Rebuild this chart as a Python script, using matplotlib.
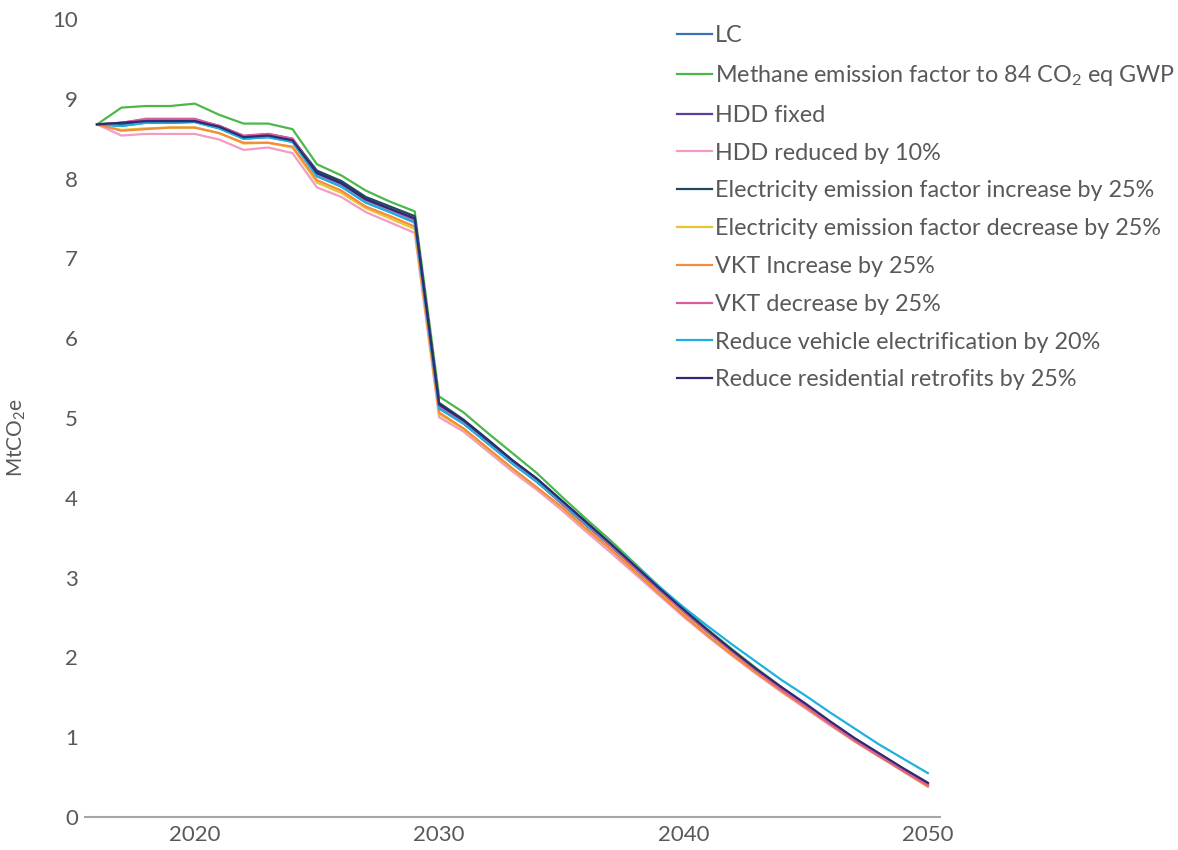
import matplotlib
matplotlib.use("Agg")
import matplotlib.pyplot as plt

plt.rcParams["font.family"] = ["Lato", "DejaVu Sans"]
plt.rcParams["mathtext.default"] = "regular"

years = list(range(2016, 2051))

lc = [8.68, 8.66, 8.70, 8.70, 8.71, 8.63, 8.50, 8.52, 8.46, 8.03, 7.90, 7.70, 7.58, 7.45,
      5.12, 4.93, 4.68, 4.43, 4.20,
      3.93, 3.66, 3.40, 3.12, 2.84, 2.57, 2.31, 2.07, 1.83, 1.61, 1.40, 1.18, 0.97, 0.78, 0.59, 0.41]
methane_84 = [8.68, 8.89, 8.91, 8.91, 8.94, 8.80, 8.69, 8.69, 8.62, 8.18, 8.04, 7.85, 7.71, 7.59,
              5.27, 5.07, 4.81, 4.56, 4.31,
              4.02, 3.74, 3.47, 3.18, 2.89, 2.61, 2.35, 2.10, 1.86, 1.63, 1.41, 1.19, 0.98, 0.79, 0.60, 0.42]
hdd_fixed = [8.68, 8.70, 8.74, 8.74, 8.74, 8.66, 8.53, 8.56, 8.50, 8.08, 7.95, 7.75, 7.62, 7.50,
             5.15, 4.96, 4.71, 4.46, 4.23,
             3.96, 3.69, 3.42, 3.14, 2.86, 2.59, 2.33, 2.08, 1.84, 1.62, 1.41, 1.19, 0.98, 0.79, 0.60, 0.42]
hdd_minus10 = [8.68, 8.54, 8.56, 8.56, 8.56, 8.49, 8.36, 8.39, 8.32, 7.89, 7.77, 7.58, 7.45, 7.32,
               5.01, 4.83, 4.58, 4.33, 4.10,
               3.85, 3.58, 3.32, 3.05, 2.78, 2.51, 2.26, 2.02, 1.79, 1.57, 1.36, 1.15, 0.95, 0.76, 0.58, 0.39]
elec_up = [8.68, 8.68, 8.71, 8.72, 8.73, 8.66, 8.53, 8.54, 8.49, 8.10, 7.97, 7.77, 7.65, 7.53,
           5.19, 4.98, 4.73, 4.47, 4.24,
           3.97, 3.70, 3.43, 3.15, 2.87, 2.60, 2.33, 2.08, 1.84, 1.62, 1.40, 1.19, 0.98, 0.78, 0.59, 0.40]
elec_down = [8.68, 8.61, 8.63, 8.64, 8.64, 8.57, 8.44, 8.45, 8.39, 7.95, 7.82, 7.63, 7.50, 7.37,
             5.05, 4.86, 4.61, 4.36, 4.13,
             3.88, 3.61, 3.36, 3.08, 2.81, 2.54, 2.28, 2.04, 1.81, 1.59, 1.38, 1.17, 0.96, 0.77, 0.58, 0.39]
vkt_up = [8.68, 8.60, 8.62, 8.64, 8.64, 8.57, 8.45, 8.45, 8.40, 7.98, 7.85, 7.65, 7.53, 7.40,
          5.07, 4.87, 4.62, 4.37, 4.13,
          3.89, 3.62, 3.36, 3.08, 2.80, 2.53, 2.27, 2.03, 1.80, 1.58, 1.37, 1.16, 0.95, 0.76, 0.57, 0.38]
vkt_down = [8.68, 8.70, 8.75, 8.75, 8.75, 8.66, 8.54, 8.56, 8.50, 8.06, 7.93, 7.73, 7.61, 7.48,
            5.14, 4.94, 4.69, 4.44, 4.21,
            3.94, 3.67, 3.41, 3.13, 2.85, 2.58, 2.32, 2.07, 1.83, 1.60, 1.39, 1.17, 0.96, 0.77, 0.58, 0.40]
ev_minus20 = [8.68, 8.66, 8.70, 8.70, 8.71, 8.63, 8.50, 8.52, 8.46, 8.03, 7.90, 7.70, 7.58, 7.45,
              5.12, 4.93, 4.68, 4.43, 4.20,
              3.95, 3.68, 3.43, 3.16, 2.89, 2.63, 2.39, 2.16, 1.94, 1.72, 1.52, 1.31, 1.11, 0.91, 0.73, 0.55]
retrofit_minus25 = [8.68, 8.70, 8.72, 8.72, 8.72, 8.65, 8.52, 8.54, 8.48, 8.07, 7.94, 7.74, 7.62, 7.50,
                    5.17, 4.97, 4.72, 4.47, 4.24,
                    3.97, 3.70, 3.43, 3.15, 2.87, 2.60, 2.34, 2.09, 1.85, 1.63, 1.42, 1.20, 0.99, 0.80, 0.61, 0.43]

series = [
    ("LC", lc, "#3a72b4"),
    ("Methane emission factor to 84 CO$_2$ eq GWP", methane_84, "#4cb84a"),
    ("HDD fixed", hdd_fixed, "#5a3d9c"),
    ("HDD reduced by 10%", hdd_minus10, "#f39bc4"),
    ("Electricity emission factor increase by 25%", elec_up, "#1f4a5e"),
    ("Electricity emission factor decrease by 25%", elec_down, "#e9c62e"),
    ("VKT Increase by 25%", vkt_up, "#f58b3c"),
    ("VKT decrease by 25%", vkt_down, "#d95c9c"),
    ("Reduce vehicle electrification by 20%", ev_minus20, "#1eb1e0"),
    ("Reduce residential retrofits by 25%", retrofit_minus25, "#2f2a72"),
]

text_color = "#595959"

fig = plt.figure(figsize=(11.78, 8.5), dpi=100)
ax = fig.add_axes([0.072, 0.0388, 0.726, 0.9388])

for label, values, color in series:
    ax.plot(years, values, color=color, linewidth=1.6, label=label)

ax.set_xlim(2015.5, 2050.5)
ax.set_ylim(0, 10)
ax.set_xticks([2020, 2030, 2040, 2050])
ax.set_yticks(range(0, 11))
ax.tick_params(axis="both", length=0, labelsize=16, labelcolor=text_color)
ax.tick_params(axis="x", pad=6)
ax.tick_params(axis="y", pad=5)

for side in ["top", "right", "left"]:
    ax.spines[side].set_visible(False)
ax.spines["bottom"].set_color("#a6a6a6")
ax.spines["bottom"].set_linewidth(1.5)

ax.set_ylabel("MtCO$_2$e", fontsize=15, color=text_color)
ax.yaxis.set_label_coords(-0.066, 0.475)

leg = ax.legend(loc="upper left", bbox_to_anchor=(0.682, 1.004), frameon=False,
                fontsize=16.8, handlelength=1.5, handletextpad=0.1,
                labelspacing=0.72, borderaxespad=0)
for txt in leg.get_texts():
    txt.set_color(text_color)

fig.savefig("out.png", dpi=100)
